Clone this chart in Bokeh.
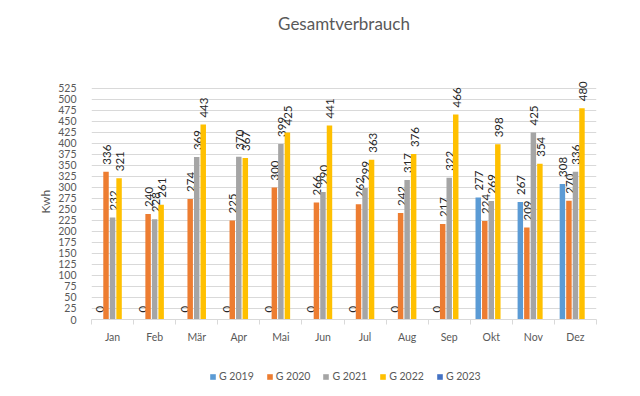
import numpy as np
from bokeh.plotting import figure
from bokeh.layouts import column
from bokeh.models import ColumnDataSource, FixedTicker, Legend, LegendItem, Range1d, Title
from bokeh.transform import dodge
from bokeh.core.properties import value
from bokeh.embed import file_html
from bokeh.resources import INLINE

months = ["Jan", "Feb", "Mär", "Apr", "Mai", "Jun", "Jul", "Aug", "Sep", "Okt", "Nov", "Dez"]
g2019 = [0, 0, 0, 0, 0, 0, 0, 0, 0, 277, 267, 308]
g2020 = [336, 240, 274, 225, 300, 266, 262, 242, 217, 224, 209, 270]
g2021 = [232, 228, 369, 370, 399, 290, 299, 317, 322, 269, 425, 336]
g2022 = [321, 261, 443, 367, 425, 441, 363, 376, 466, 398, 354, 480]
g2023 = [None] * 12
series_names = ["G 2019", "G 2020", "G 2021", "G 2022", "G 2023"]
series_values = [g2019, g2020, g2021, g2022, g2023]
colors = ["#5B9BD5", "#ED7D31", "#A5A5A5", "#FFC000", "#4472C4"]
y_ticks = list(range(0, 526, 25))

FONT = "Lato"
GRAY = "#595959"

p = figure(width=632, height=351, x_range=Range1d(0, 12), y_range=Range1d(0, 634),
           output_backend="svg", toolbar_location=None,
           min_border_left=91, min_border_right=36, min_border_top=40, min_border_bottom=32)
p.outline_line_color = None
p.background_fill_color = "white"
p.border_fill_color = "white"

p.title.text = "Gesamtverbrauch"
p.title.align = "center"
p.title.text_font = FONT
p.title.text_font_size = "17px"
p.title.text_font_style = "normal"
p.title.text_color = GRAY
p.title.offset = 32
p.title.standoff = 14

# legend-only strip underneath the chart
p2 = figure(width=632, height=38, x_range=Range1d(0, 12), y_range=Range1d(-2, -1),
            output_backend="svg", toolbar_location=None,
            x_axis_location=None, y_axis_location=None,
            min_border_left=0, min_border_right=0, min_border_top=0, min_border_bottom=0)
p2.outline_line_color = None
p2.grid.visible = False
p2.background_fill_color = "white"
p2.border_fill_color = "white"

centers = [i + 0.5 for i in range(len(months))]
step = 0.155
bar_w = 0.13

items = []
for k, (name, vals, col) in enumerate(zip(series_names, series_values, colors)):
    off = (k - 2) * step
    tops = [np.nan if v is None else v for v in vals]
    src = ColumnDataSource(dict(x=centers, top=tops))
    p.vbar(x=dodge("x", off), top="top", width=bar_w, bottom=0, source=src,
           fill_color=col, line_color=None)
    # hidden proxy so the legend can draw the swatch
    r2 = p2.vbar(x=dodge("x", off), top="top", bottom=0, width=bar_w, source=src,
                 fill_color=col, line_color=None, visible=False)
    items.append(LegendItem(label=name, renderers=[r2]))
    xs = [c for c, v in zip(centers, vals) if v is not None]
    ys = [v for v in vals if v is not None]
    if ys:
        lsrc = ColumnDataSource(dict(x=xs, top=ys, label=[str(v) for v in ys]))
        p.text(x=dodge("x", off), y="top", text="label", source=lsrc, angle=np.pi / 2,
               text_align="left", text_baseline="middle", y_offset=-7, x_offset=1,
               text_font=value(FONT), text_font_size="11.5px", text_color="#262626")

# axes
p.xaxis.ticker = FixedTicker(ticks=centers, minor_ticks=list(range(13)))
p.xaxis.major_label_overrides = {c: m for c, m in zip(centers, months)}
p.xaxis.major_tick_line_color = None
p.xaxis.major_tick_out = 6
p.xaxis.minor_tick_line_color = "#D9D9D9"
p.xaxis.minor_tick_out = 5
p.xaxis.minor_tick_in = 0
p.xaxis.axis_line_color = "#D9D9D9"
p.xaxis.major_label_standoff = 5
p.xaxis.major_label_text_font = FONT
p.xaxis.major_label_text_font_size = "10.5px"
p.xaxis.major_label_text_color = GRAY

p.yaxis.ticker = FixedTicker(ticks=y_ticks)
p.yaxis.axis_line_color = None
p.yaxis.major_tick_line_color = None
p.yaxis.minor_tick_line_color = None
p.yaxis.major_label_standoff = 9
p.yaxis.major_label_text_font = FONT
p.yaxis.major_label_text_font_size = "10.5px"
p.yaxis.major_label_text_color = GRAY

# y-axis caption, placed against the 0..525 span
kwh = Title(text="Kwh", align="left", offset=106, standoff=6,
            text_font=FONT, text_font_size="12px", text_font_style="normal",
            text_color=GRAY)
p.add_layout(kwh, "left")

p.xgrid.visible = False
p.ygrid.grid_line_color = "#D9D9D9"
p.ygrid.ticker = FixedTicker(ticks=y_ticks)

legend = Legend(items=items, orientation="horizontal", location=(118, 7),
                glyph_width=7, glyph_height=7, label_standoff=3, spacing=12,
                padding=0, margin=0, border_line_color=None, background_fill_alpha=0,
                inactive_fill_alpha=0,
                label_text_font=FONT, label_text_font_size="10.5px", label_text_color=GRAY,
                label_height=12)
p2.add_layout(legend, "center")

layout = column(p, p2)
open("out.html", "w").write(file_html(layout, INLINE))
